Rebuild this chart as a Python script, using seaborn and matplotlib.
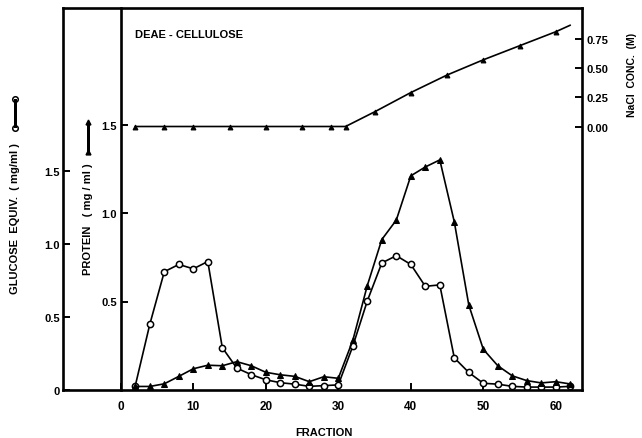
import matplotlib
matplotlib.use("Agg")
import matplotlib.pyplot as plt
from matplotlib.patches import Rectangle
import seaborn as sns
import pandas as pd

fractions = list(range(2, 63, 2))
glucose = [0.03, 0.45, 0.81, 0.86, 0.83, 0.88, 0.29, 0.15, 0.105, 0.07,
           0.05, 0.04, 0.025, 0.03, 0.035, 0.30, 0.61, 0.87, 0.92, 0.86,
           0.71, 0.72, 0.22, 0.12, 0.046, 0.04, 0.025, 0.02, 0.02, 0.02, 0.025]
protein = [0.02, 0.02, 0.035, 0.077, 0.12, 0.14, 0.137, 0.16, 0.137, 0.10,
           0.086, 0.077, 0.047, 0.075, 0.066, 0.28, 0.59, 0.85, 0.96, 1.21,
           1.26, 1.30, 0.95, 0.48, 0.23, 0.137, 0.08, 0.053, 0.04, 0.047, 0.034]
nacl_fractions = [2, 6, 10, 15, 20, 25, 29, 31, 35, 40, 45, 50, 55, 60, 62]
nacl = [0, 0, 0, 0, 0, 0, 0, 0, 0.125, 0.29, 0.44, 0.57, 0.69, 0.81, 0.866]

x_ticks = [0, 10, 20, 30, 40, 50, 60]
glucose_ticks = [0, 0.5, 1.0, 1.5]
glucose_labels = ["0", "0.5", "1.0", "1.5"]
protein_ticks = [0.5, 1.0, 1.5]
nacl_ticks = [0, 0.25, 0.5, 0.75]
nacl_labels = ["0.00", "0.25", "0.50", "0.75"]

df = pd.DataFrame({"fraction": fractions, "glucose": glucose, "protein": protein})
df_nacl = pd.DataFrame({"fraction": nacl_fractions, "nacl": nacl})

sns.set_style("ticks", {"axes.edgecolor": "black", "text.color": "black",
                        "axes.labelcolor": "black", "xtick.color": "black",
                        "ytick.color": "black"})
plt.rcParams["font.family"] = ["Liberation Sans", "DejaVu Sans"]
plt.rcParams["font.weight"] = "bold"

W, H = 642, 439
fig = plt.figure(figsize=(W / 100, H / 100), dpi=100)
ax = fig.add_axes([63 / W, (H - 391) / H, (582 - 63) / W, (391 - 9) / H])
ax2 = ax.twinx()
ax3 = ax.twinx()

lw = 1.2
spine_w = 1.9
tick_kw = dict(direction="in", length=5, width=1.4, colors="black")

# glucose (open circles) on the outer left axis
sns.lineplot(data=df, x="fraction", y="glucose", ax=ax, color="black", lw=lw,
             marker="o", markersize=4.5, markerfacecolor="white",
             markeredgecolor="black", markeredgewidth=1.1)
# protein (filled triangles) on the inner axis
sns.lineplot(data=df, x="fraction", y="protein", ax=ax2, color="black", lw=lw,
             marker="^", markersize=4, markerfacecolor="black",
             markeredgecolor="black")
# NaCl gradient on the right axis
sns.lineplot(data=df_nacl, x="fraction", y="nacl", ax=ax3, color="black", lw=lw,
             marker="^", markersize=3.5, markerfacecolor="black",
             markeredgecolor="black", markevery=list(range(len(nacl) - 1)))

x_lo = -(120.8 - 63) / 7.25
x_hi = (582 - 120.8) / 7.25
ax.set_xlim(x_lo, x_hi)
ax.set_ylim(0, 382 / 146)
ax2.set_ylim(0, 382 / 177)
ax3.set_ylim(-(391 - 127.5) / 117, (127.5 - 9) / 117)

ax.set_xticks(x_ticks)
ax.set_xticklabels([str(t) for t in x_ticks], fontweight="bold")
ax.set_yticks(glucose_ticks)
ax.set_yticklabels(glucose_labels, fontweight="bold")
ax.tick_params(axis="x", pad=7, labelsize=8.5, **tick_kw)
ax.tick_params(axis="y", pad=2, labelsize=8, **tick_kw)
for s in ax.spines.values():
    s.set_linewidth(spine_w)
ax.spines["right"].set_visible(False)

# inner protein axis sits at fraction 0
ax2.spines["right"].set_visible(False)
ax2.spines["top"].set_visible(False)
ax2.spines["bottom"].set_visible(False)
ax2.spines["left"].set_visible(True)
ax2.spines["left"].set_position(("data", 0))
ax2.spines["left"].set_linewidth(spine_w)
ax2.yaxis.set_ticks_position("left")
ax2.set_yticks(protein_ticks)
ax2.set_yticklabels([f"{t:.1f}" for t in protein_ticks], fontweight="bold")
ax2.tick_params(axis="y", pad=3, labelsize=8, **tick_kw)

ax3.spines["left"].set_visible(False)
ax3.spines["top"].set_visible(False)
ax3.spines["bottom"].set_visible(False)
ax3.spines["right"].set_linewidth(spine_w)
ax3.set_yticks(nacl_ticks)
ax3.set_yticklabels(nacl_labels, fontweight="bold")
ax3.tick_params(axis="y", pad=3, labelsize=8, **tick_kw)

for a in (ax, ax2, ax3):
    a.set_xlabel("")
    a.set_ylabel("")

fig.text(135 / W, 1 - 35 / H, "DEAE - CELLULOSE", fontsize=8,
         fontweight="bold", va="center", ha="left")
fig.text(324 / W, 1 - 433 / H, "FRACTION", fontsize=8, fontweight="bold",
         va="center", ha="center")
fig.text(15.5 / W, 1 - 219 / H, "GLUCOSE  EQUIV.  ( mg/ml )", fontsize=8,
         fontweight="bold", rotation=90, va="center", ha="center")
fig.text(88.5 / W, 1 - 219 / H, "PROTEIN   ( mg / ml )", fontsize=8,
         fontweight="bold", rotation=90, va="center", ha="center")
fig.text(632 / W, 1 - 75 / H, "NaCl  CONC.  (M)", fontsize=7.5,
         fontweight="bold", rotation=90, va="center", ha="center")

# legend keys beside the axis titles (figure pixel coordinates)
to_fig = lambda px, py: (px / W, 1 - py / H)
bar_w = 2.5
for kx, k_top, k_bot in [(14, 100, 129), (87.25, 123, 153)]:
    x0, y0 = to_fig(kx, k_bot)
    fig.patches.append(Rectangle((x0, y0), bar_w / W, (k_bot - k_top) / H,
                                 facecolor="black", edgecolor="none",
                                 transform=fig.transFigure, zorder=5))
g_top, g_bot = to_fig(15.25, 100), to_fig(15.25, 129)
p_top, p_bot = to_fig(88.5, 123), to_fig(88.5, 153)
ax.plot([g_top[0], g_bot[0]], [g_top[1], g_bot[1]], ls="none", marker="o",
        markersize=4, markerfacecolor="white", markeredgecolor="black",
        markeredgewidth=1.1, transform=fig.transFigure, clip_on=False, zorder=6)
ax.plot([p_top[0], p_bot[0]], [p_top[1], p_bot[1]], ls="none",
        marker="^", markersize=3.5, markerfacecolor="black",
        markeredgecolor="black", transform=fig.transFigure, clip_on=False,
        zorder=6)

fig.savefig("out.png", dpi=100)
